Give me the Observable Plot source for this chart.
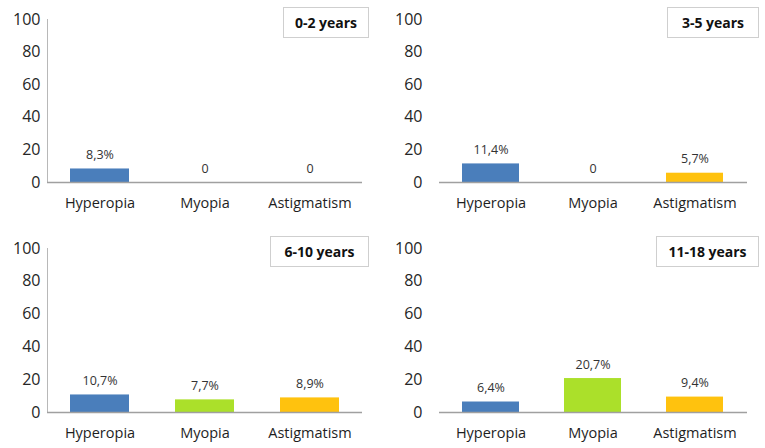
<!DOCTYPE html>
<html>
<head>
<meta charset="utf-8">
<script src="https://cdn.jsdelivr.net/npm/d3@7"></script>
<script src="https://cdn.jsdelivr.net/npm/@observablehq/plot@0.6"></script>
<style>
  html, body { margin: 0; padding: 0; background: #fff; }
  #root { position: relative; width: 765px; height: 448px; overflow: hidden; font-family: "Open Sans", sans-serif; }
  .panel { position: absolute; }
  .tag { position: absolute; box-sizing: border-box; border: 1px solid #cfcfcf; background: #fff;
         font: bold 14px "Open Sans", sans-serif; color: #111; display: flex; align-items: center; justify-content: center; }
</style>
</head>
<body>
<div id="root"></div>
<script>
const categories = ["Hyperopia", "Myopia", "Astigmatism"];
const groups = ["0-2 years", "3-5 years", "6-10 years", "11-18 years"];
const hyperopia = [8.3, 11.4, 10.7, 6.4];
const myopia = [0, 0, 7.7, 20.7];
const astigmatism = [0, 5.7, 8.9, 9.4];
const yTicks = [0, 20, 40, 60, 80, 100];

const palette = ["#4a7ebb", "#abe02a", "#ffc20e"];

const layouts = [
  {left: 0,   top: 0,   width: 380, height: 215, mt: 19, mb: 33, ml: 47, mr: 18, yLine: true,  tag: {x: 283, y: 7,   w: 86,  h: 31}},
  {left: 380, top: 0,   width: 385, height: 215, mt: 19, mb: 33, ml: 59, mr: 18, yLine: false, tag: {x: 667, y: 7,   w: 92,  h: 31}},
  {left: 0,   top: 230, width: 380, height: 218, mt: 18, mb: 36, ml: 47, mr: 18, yLine: true,  tag: {x: 270, y: 236, w: 99,  h: 31}},
  {left: 380, top: 230, width: 385, height: 218, mt: 18, mb: 36, ml: 59, mr: 18, yLine: false, tag: {x: 656, y: 236, w: 103, h: 31}}
];

const fmt = v => v === 0 ? "0" : v.toFixed(1).replace(".", ",") + "%";
const root = document.getElementById("root");

groups.forEach((g, i) => {
  const L = layouts[i];
  const data = categories.map((c, j) => ({
    category: c,
    value: [hyperopia, myopia, astigmatism][j][i]
  }));
  const marks = [
    Plot.axisY({ticks: yTicks, tickSize: 0, tickPadding: L.yLine ? 7 : 17, fontSize: 16, fill: "#262626", label: null}),
    Plot.axisX({tickSize: 0, tickPadding: 15, fontSize: 14.5, fill: "#1e1e1e", label: null}),
    Plot.barY(data, {x: "category", y: "value", fill: "category"}),
    Plot.ruleY([0], {stroke: "#a0a0a0", strokeWidth: 1.5}),
    Plot.text(data, {x: "category", y: "value", text: d => fmt(d.value), lineAnchor: "bottom", dy: -10, fontSize: 12.5, fill: "#333"})
  ];
  if (L.yLine) marks.unshift(Plot.frame({anchor: "left", stroke: "#b8b8b8"}));
  const chart = Plot.plot({
    width: L.width,
    height: L.height,
    marginTop: L.mt,
    marginBottom: L.mb,
    marginLeft: L.ml,
    marginRight: L.mr,
    style: {fontFamily: "'Open Sans', sans-serif", background: "transparent"},
    x: {domain: categories, paddingInner: 0.44, paddingOuter: 0.22, axis: null},
    y: {domain: [0, 100], axis: null},
    color: {domain: categories, range: palette},
    marks
  });
  const div = document.createElement("div");
  div.className = "panel";
  div.style.left = L.left + "px";
  div.style.top = L.top + "px";
  div.appendChild(chart);
  root.appendChild(div);

  const tag = document.createElement("div");
  tag.className = "tag";
  tag.style.left = L.tag.x + "px";
  tag.style.top = L.tag.y + "px";
  tag.style.width = L.tag.w + "px";
  tag.style.height = L.tag.h + "px";
  tag.textContent = g;
  root.appendChild(tag);
});
</script>
</body>
</html>
